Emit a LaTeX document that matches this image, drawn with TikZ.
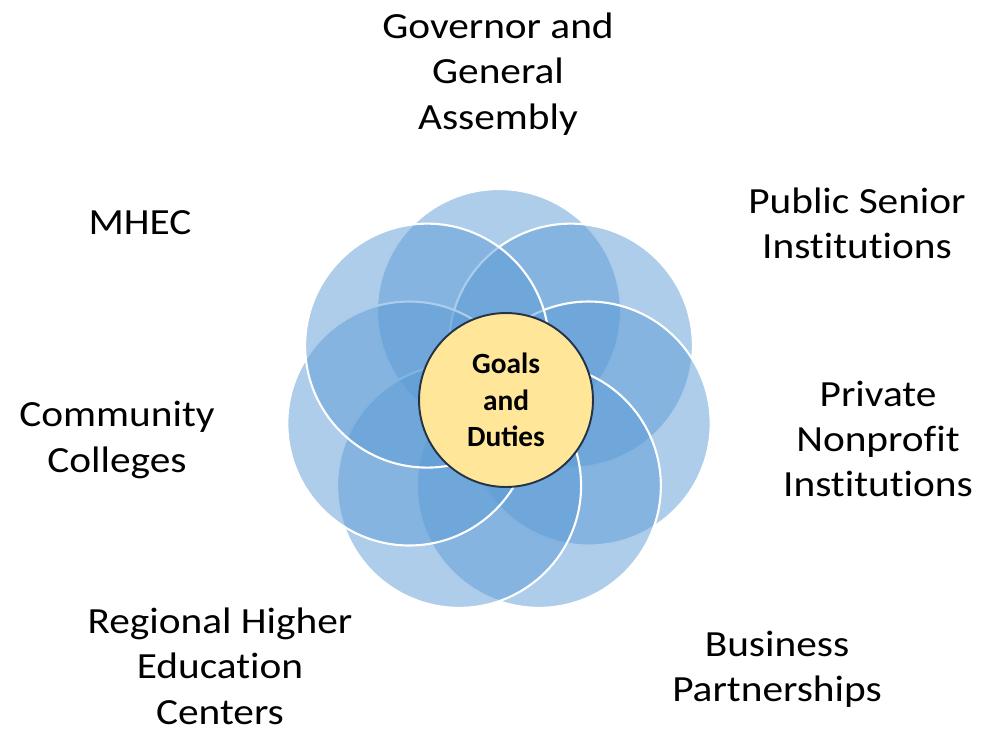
\documentclass[tikz,border=0pt]{standalone}
\usepackage{fontspec}
\setmainfont{Carlito}
\newfontfamily\labelfont[FakeStretch=1.12, Ligatures=NoCommon]{Carlito}
\usetikzlibrary{positioning}
\definecolor{petalblue}{RGB}{91,155,213}
\definecolor{goalyellow}{RGB}{255,230,153}
\definecolor{goalrim}{RGB}{38,50,72}

\tikzset{
    petal/.style={circle, draw=white, line width=1.2pt, fill=petalblue, fill opacity=0.5, draw opacity=1, minimum size=4.88cm, inner sep=0pt},
    party/.style={align=center, font=\labelfont\fontsize{21}{25.8}\selectfont, text=black, inner sep=1pt}
}

\begin{document}
\begin{tikzpicture}[x=0.02cm, y=-0.02cm]
    \useasboundingbox (0,0) rectangle (981,731);

    % Petals
    \node[petal] (petalgov) at (499,311) {};
    \node[petal] (petalpublic) at (570.9,345.6) {};
    \node[petal] (petalprivate) at (588.7,423.5) {};
    \node[petal] (petalbusiness) at (538.9,485.9) {};
    \node[petal] (petalregional) at (459.1,485.9) {};
    \node[petal] (petalcommunity) at (409.3,423.5) {};
    \node[petal] (petalmhec) at (427.1,345.6) {};

    % Goals and Duties
    \node[circle, draw=goalrim, line width=1.1pt, fill=goalyellow, minimum size=3.48cm, inner sep=0pt, align=center, font=\fontsize{16.7}{20.7}\selectfont\bfseries] (goals) at (506,400) {Goals\\and\\Duties};

    % Labels
    \node[party] (governor) at (498,74) {Governor and\\General\\Assembly};
    \node[party] (mhec) at (140,223) {MHEC};
    \node[party] (publicsenior) at (857,223) {Public Senior\\Institutions};
    \node[party] (privatenp) at (878,439) {Private\\Nonprofit\\Institutions};
    \node[party] (community) at (117,440) {Community\\Colleges};
    \node[party] (regional) at (220,666) {Regional Higher\\Education\\Centers};
    \node[party] (business) at (777,669) {Business\\Partnerships};
\end{tikzpicture}
\end{document}
